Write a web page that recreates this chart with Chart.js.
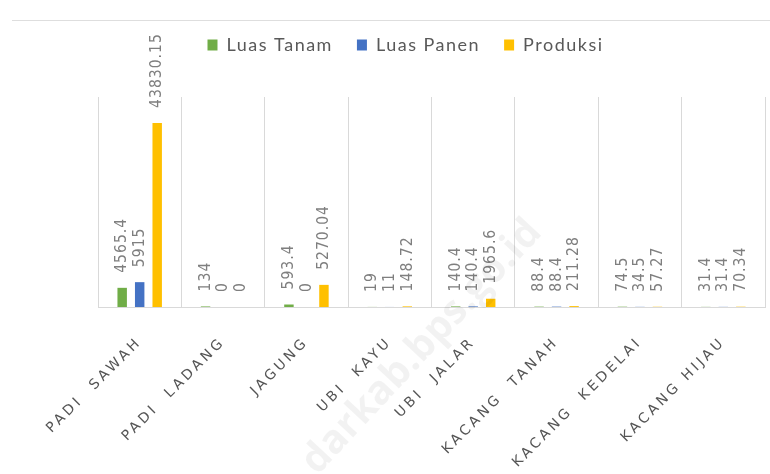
<!DOCTYPE html>
<html>
<head>
<meta charset="utf-8">
<script src="https://cdn.jsdelivr.net/npm/chart.js@4.4.0/dist/chart.umd.min.js"></script>
<style>
html, body { margin: 0; padding: 0; background: #fff; }
</style>
</head>
<body>
<canvas id="myChart" width="770" height="474"></canvas>
<script>
// komoditas dan nilainya
let categories = ['PADI  SAWAH', 'PADI  LADANG', 'JAGUNG', 'UBI  KAYU', 'UBI  JALAR', 'KACANG  TANAH', 'KACANG  KEDELAI', 'KACANG HIJAU'];
let luas_tanam = [4565.4, 134, 593.4, 19, 140.4, 88.4, 74.5, 31.4];
let luas_panen = [5915, 0, 0, 11, 140.4, 88.4, 34.5, 31.4];
let produksi = [43830.15, 0, 5270.04, 148.72, 1965.6, 211.28, 57.27, 70.34];
let series_names = ['Luas Tanam', 'Luas Panen', 'Produksi'];
let series_colors = ['#70ad47', '#4472c4', '#ffc000'];
let y_max = 50000;
let watermark = 'darkab.bps.go.id';

// canvas letterSpacing, dipakai untuk legenda dan label sumbu x
function withSpacing(ctx, sp, fn) {
    let old = ctx.letterSpacing;
    ctx.letterSpacing = sp;
    try { return fn(); } finally { ctx.letterSpacing = old; }
}

const spacing = {
    id: 'spacing',
    beforeLayout(chart) {
        const lg = chart.legend;
        if (lg && !lg._patched) {
            lg._patched = true;
            const fit = lg.fit, draw = lg.draw;
            lg.fit = function () {
                withSpacing(this.ctx, '1.5px', () => fit.call(this));
                this.height = 85;
            };
            lg.draw = function () {
                withSpacing(this.ctx, '1.5px', () => draw.call(this));
            };
        }
        const sx = chart.scales.x;
        if (sx && !sx._patched) {
            sx._patched = true;
            const drawLabels = sx.drawLabels;
            sx.drawLabels = function (area) {
                withSpacing(this.ctx, '3.3px', () => drawLabels.call(this, area));
            };
        }
    },
    beforeDraw(chart) {
        // garis tipis di atas
        const ctx = chart.ctx;
        ctx.save();
        ctx.strokeStyle = '#dedede';
        ctx.lineWidth = 1;
        ctx.beginPath();
        ctx.moveTo(12, 20.5);
        ctx.lineTo(770, 20.5);
        ctx.stroke();
        ctx.restore();
    }
};

// label nilai tegak di atas setiap batang
const barLabels = {
    id: 'barLabels',
    afterDatasetsDraw(chart) {
        const ctx = chart.ctx;
        chart.data.datasets.forEach((ds, i) => {
            const meta = chart.getDatasetMeta(i);
            meta.data.forEach((bar, j) => {
                ctx.save();
                ctx.translate(bar.x, bar.y - 15);
                ctx.scale(1.15, 1);
                ctx.rotate(-Math.PI / 2);
                ctx.font = '14px "DejaVu Sans"';
                ctx.letterSpacing = '1px';
                ctx.fillStyle = '#7f7f7f';
                ctx.textAlign = 'left';
                ctx.textBaseline = 'middle';
                ctx.fillText(String(ds.data[j]), 0, 0);
                ctx.restore();
            });
        });
    },
    afterDraw(chart) {
        const ctx = chart.ctx;
        ctx.save();
        ctx.translate(422, 347);
        ctx.rotate(-47 * Math.PI / 180);
        ctx.font = 'bold 40px "Open Sans"';
        ctx.fillStyle = 'rgba(0,0,0,0.05)';
        ctx.textAlign = 'center';
        ctx.textBaseline = 'middle';
        ctx.fillText(watermark, 0, 0);
        ctx.restore();
    }
};

let all_series = [luas_tanam, luas_panen, produksi];

new Chart(document.getElementById('myChart'), {
    type: 'bar',
    data: {
        labels: categories,
        datasets: all_series.map((d, i) => ({
            label: series_names[i],
            data: d,
            backgroundColor: series_colors[i],
            borderWidth: 0,
            barPercentage: 0.54,
            categoryPercentage: 0.63
        }))
    },
    options: {
        responsive: false,
        animation: false,
        devicePixelRatio: 1,
        layout: { padding: { left: 46, right: 5, top: 12, bottom: 0 } },
        plugins: {
            legend: {
                position: 'top',
                labels: {
                    boxWidth: 10,
                    boxHeight: 11,
                    padding: 24,
                    color: '#595959',
                    font: { family: 'Lato', size: 18 }
                }
            },
            tooltip: { enabled: false }
        },
        scales: {
            x: {
                grid: { offset: true, color: '#d9d9d9', drawTicks: false },
                border: { color: '#d9d9d9' },
                ticks: {
                    autoSkip: false,
                    minRotation: 45,
                    maxRotation: 45,
                    padding: 27,
                    color: '#555555',
                    font: { family: 'DejaVu Sans', size: 14 }
                },
                afterFit(s) { s.height = 167; s.paddingLeft = 0; s.paddingRight = 0; }
            },
            y: {
                min: 0,
                max: y_max,
                grid: { display: false },
                border: { display: false },
                ticks: { display: false },
                afterFit(s) { s.width = 52; s.paddingTop = 0; s.paddingBottom = 0; }
            }
        }
    },
    plugins: [spacing, barLabels]
});
</script>
</body>
</html>
